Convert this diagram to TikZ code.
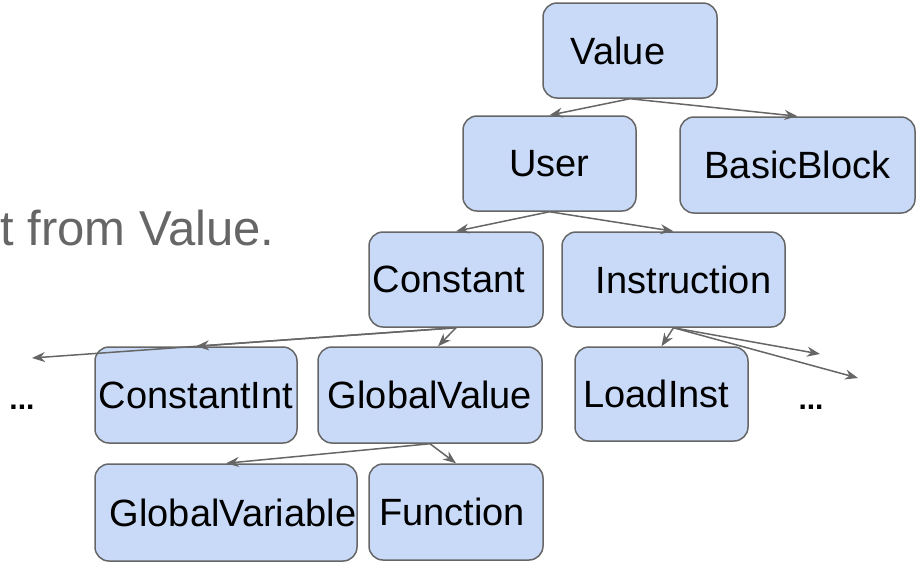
\documentclass[tikz,border=0pt]{standalone}
\usepackage{fontspec}
\setmainfont{Liberation Sans}
\usetikzlibrary{arrows.meta}
\definecolor{boxblue}{HTML}{C9DAF8}
\definecolor{edgegray}{HTML}{666666}
\definecolor{textgray}{HTML}{666666}

\begin{document}
\begin{tikzpicture}[x=0.5pt, y=-0.5pt,
  classbox/.style={draw=edgegray, fill=boxblue, line width=0.75pt, rounded corners=7pt,
    minimum height=47.5pt, inner sep=0pt, font=\fontsize{19}{22}\selectfont},
  inherit/.style={draw=edgegray, line width=0.75pt, -{Stealth[length=6.5pt,width=5pt]}},
  dots/.style={inner sep=0pt, font=\fontsize{15}{18}\selectfont\bfseries}]
  \useasboundingbox (0,0) rectangle (916,563);

  % caption text, cut at the left edge
  \node[anchor=base west, inner sep=0pt, text=textgray, font=\fontsize{24.5}{28}\selectfont] (caption) at (0,245) {t from Value.};

  % root and first level
  \node[classbox, minimum width=87pt] (value) at (630,50.5) {\hspace*{-12pt}Value};
  \node[classbox, minimum width=86.5pt] (user) at (549.5,163.5) {User};
  \node[classbox, minimum width=117.5pt, minimum height=48pt] (basicblock) at (797.5,165) {BasicBlock};

  % second level
  \node[classbox, minimum width=87pt] (constant) at (456,279.5) {\hspace*{-7pt}Constant};
  \node[classbox, minimum width=111.5pt] (instruction) at (673.5,279.5) {\hspace*{10pt}Instruction};

  % third level
  \node[classbox, minimum width=101pt, minimum height=48pt] (constantint) at (196,395) {ConstantInt};
  \node[classbox, minimum width=112pt, minimum height=48pt] (globalvalue) at (430,395) {GlobalValue};
  \node[classbox, minimum width=86.5pt, minimum height=47pt] (loadinst) at (661.5,394) {\hspace*{-5pt}LoadInst};
  \node[dots] (leftdots) at (22,407) {...};
  \node[dots] (rightdots) at (811,407) {...};

  % fourth level
  \node[classbox, minimum width=131pt, minimum height=48.5pt] (globalvariable) at (226,512.5) {\hspace*{7pt}GlobalVariable};
  \node[classbox, minimum width=87pt, minimum height=48pt] (function) at (456,512) {\hspace*{-4pt}Function};

  % free ends of the open arrows
  \coordinate (leftend) at (32,358);
  \coordinate (rightend1) at (820,354);
  \coordinate (rightend2) at (858,378);

  % arrows
  \draw[inherit] (value.south) -- (user.north);
  \draw[inherit] (value.south) -- (basicblock.north);
  \draw[inherit] (user.south) -- (constant.north);
  \draw[inherit] (user.south) -- (instruction.north);
  \draw[inherit] (constant.south) -- (leftend);
  \draw[inherit] (constant.south) -- (constantint.north);
  \draw[inherit] (constant.south) -- ([xshift=4pt]globalvalue.north);
  \draw[inherit] (instruction.south) -- (loadinst.north);
  \draw[inherit] (instruction.south) -- (rightend1);
  \draw[inherit] (instruction.south) -- (rightend2);
  \draw[inherit] (globalvalue.south) -- (globalvariable.north);
  \draw[inherit] (globalvalue.south) -- (function.north);
\end{tikzpicture}
\end{document}
